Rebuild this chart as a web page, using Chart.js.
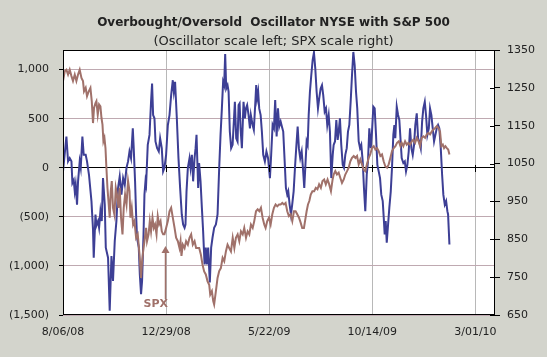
<!DOCTYPE html>
<html><head><meta charset="utf-8">
<script src="https://cdn.jsdelivr.net/npm/chart.js@4/dist/chart.umd.min.js"></script>
<style>
html,body{margin:0;padding:0;background:#d3d4cc;}
canvas{display:block;}
</style></head><body>
<canvas id="c" width="547" height="357"></canvas>
<script>
// ---- tick labels / categories ----
const xTickPositions = [0, 100, 200, 300, 400];
const xTickLabels = ['8/06/08', '12/29/08', '5/22/09', '10/14/09', '3/01/10'];
const leftTicks = [-1500, -1000, -500, 0, 500, 1000];
const rightTicks = [650, 750, 850, 950, 1050, 1150, 1250, 1350];

// ---- Oscillator (left scale): session index from 8/06/08, value ----
const oscDay = [0,3.3,4.9,6.5,8.2,9.1,10.4,11.4,12.3,13.6,14.6,16.2,17.2,18.8,20.1,22.0,23.3,25.2,27.6,29.1,29.8,31.5,32.4,34.0,35.0,36.3,37.6,38.8,40.5,41.5,43.7,45.3,47.0,48.5,50.2,51.8,53.4,55.0,56.7,58.3,59.9,61.6,63.1,64.5,66.0,67.7,68.6,69.9,70.9,71.8,73.5,74.5,75.7,76.7,78.1,79.0,80.0,80.6,82.2,83.9,85.4,86.4,87.4,88.7,89.7,91.3,92.9,94.2,95.8,97.1,98.4,100.0,101.7,103.3,104.9,106.5,107.5,108.7,110.4,112.0,113.6,115.2,116.5,117.9,118.8,119.8,121.1,122.7,123.7,125.0,126.2,127.6,128.6,129.5,130.3,131.1,132.0,133.4,134.7,135.9,137.3,138.5,139.5,140.8,142.4,143.7,145.0,146.6,148.3,149.9,151.5,152.8,154.1,155.3,156.3,157.3,158.3,159.6,160.6,161.8,163.1,164.5,165.7,166.7,168.0,169.3,170.3,171.3,172.2,173.5,175.1,176.4,177.4,178.6,180.0,181.3,182.2,183.9,185.1,186.4,187.4,188.3,189.3,190.3,191.7,192.9,194.2,195.8,197.3,198.9,200.7,201.9,203.3,204.6,205.8,207.2,208.5,209.7,211.1,212.3,213.6,215.0,216.2,217.5,218.5,219.8,221.1,222.3,223.7,225.0,226.2,227.6,228.8,230.1,231.5,232.7,234.0,235.3,236.3,237.3,238.3,239.5,240.8,242.1,243.4,244.7,246.0,247.3,248.5,249.9,251.2,252.4,253.8,255.1,256.3,257.7,258.9,260.2,261.6,262.5,263.8,265.1,266.4,267.4,268.6,269.9,271.3,272.5,273.8,275.2,276.4,277.7,279.0,280.3,281.6,282.9,284.2,285.4,286.8,288.1,289.3,290.7,291.9,293.2,294.6,295.8,297.1,298.5,299.7,301.0,302.3,303.6,304.9,306.2,307.5,308.7,310.1,311.1,312.0,313.0,314.0,315.3,316.5,317.9,319.1,320.4,321.4,322.3,323.7,325.0,326.2,328.5,330.1,331.5,332.7,334.0,335.3,336.6,337.9,339.2,340.5,341.7,343.1,344.4,345.6,347.0,348.3,349.5,350.9,352.1,353.4,354.8,356.0,357.3,358.6,359.9,361.2,362.5,363.8,365.0,366.4,367.7,368.9,370.3,371.6,372.8,373.5,374.8];
const oscValue = [-37,318,65,98,65,-155,-125,-240,-170,-375,-138,65,0,318,132,132,65,-71,-340,-628,-916,-476,-590,-543,-611,-442,-543,-105,-375,-814,-916,-1456,-900,-1152,-746,-543,-206,-88,-274,-105,-172,0,65,166,98,402,200,-138,-476,-713,-814,-1085,-1288,-1152,-679,-274,-138,-172,233,335,673,859,537,504,268,200,166,301,200,-37,0,132,436,537,740,892,775,876,504,98,-206,-476,-578,-611,-578,-240,0,98,0,132,-138,98,200,335,65,-206,48,-138,-409,-645,-984,-814,-984,-814,-1169,-814,-713,-611,-578,-476,0,335,605,876,842,1160,808,842,775,369,200,234,470,673,301,268,639,656,402,200,673,504,605,639,537,402,537,436,386,639,842,707,775,605,537,369,132,65,166,98,-105,132,436,402,690,318,605,420,470,420,369,65,-206,-274,-240,-375,-476,-375,-240,0,200,420,200,98,166,0,-206,65,268,234,537,775,943,1095,1175,1011,775,605,707,808,842,740,572,605,436,537,369,-105,132,233,268,487,284,369,504,233,30,0,132,200,369,436,673,943,1180,1045,775,605,268,200,234,65,-206,-442,-71,65,402,200,369,622,605,335,30,-37,-105,-274,-340,-510,-679,-543,-763,-578,-409,-240,0,335,436,301,622,538,487,98,48,65,-37,30,166,402,200,132,234,436,555,301,268,200,470,605,673,537,335,402,605,537,402,268,335,402,436,402,200,-71,-274,-375,-340,-442,-476,-781];

// ---- S&P 500 (right scale) ----
const spxDay = [0,1.7,3.3,4.9,6.5,8.2,9.7,11.4,13.0,14.6,16.2,17.9,19.4,20.4,22.0,23.3,25.0,26.6,27.9,29.1,30.1,31.5,32.4,33.7,35.0,36.3,37.3,38.3,39.2,40.2,41.2,42.1,43.1,44.1,45.3,46.3,47.3,48.5,49.9,51.2,52.4,53.8,55.0,56.3,57.7,58.9,60.2,61.6,63.1,64.5,65.4,66.7,68.0,69.3,70.9,72.5,74.2,75.7,76.7,78.1,79.0,80.6,81.5,83.0,84.2,85.4,86.8,88.1,89.3,90.7,91.9,93.2,94.6,95.8,97.1,98.4,100.0,101.7,103.3,104.9,106.5,108.2,109.7,111.4,113.0,114.0,114.9,116.2,117.9,119.4,121.1,122.7,124.3,125.9,127.6,129.1,130.5,132.1,133.7,135.3,136.9,138.5,140.2,141.8,142.8,144.4,145.7,146.6,148.3,149.9,151.5,153.1,154.8,156.4,158.0,159.6,161.2,162.9,164.6,166.2,167.7,169.4,171.0,172.6,174.3,175.8,177.5,179.1,180.7,182.3,184.0,185.5,187.2,188.8,190.4,192.0,193.6,195.2,196.5,198.1,199.8,201.4,203.0,204.6,206.2,207.8,209.5,211.1,212.7,214.3,215.9,217.5,219.1,220.8,222.4,224.0,225.6,227.2,228.9,230.5,232.0,233.7,235.3,236.3,237.6,238.9,240.3,241.9,243.6,245.2,246.8,248.4,250.1,251.7,253.3,254.9,256.6,258.2,259.9,261.5,262.5,264.1,265.7,267.4,269.0,270.6,272.3,273.8,275.5,277.1,278.7,280.3,282.0,283.6,285.2,286.8,288.4,290.0,291.6,293.2,294.8,296.5,298.0,299.7,301.4,303.0,304.6,306.2,307.8,309.4,311.0,312.6,314.3,315.9,317.5,319.1,320.8,322.4,324.0,325.7,327.3,328.5,330.1,331.8,333.4,335.0,336.6,338.3,339.8,341.5,343.1,344.8,346.3,348.0,349.6,351.2,352.8,354.5,356.0,357.7,359.3,361.0,362.6,364.2,365.7,367.0,368.4,369.6,370.9,372.3,373.6,374.8];
const spxValue = [1268,1294,1298,1285,1298,1281,1268,1285,1268,1285,1298,1276,1268,1241,1250,1228,1241,1250,1215,1157,1197,1210,1215,1179,1206,1201,1171,1153,1109,1118,1091,1039,986,951,907,977,1004,933,915,986,968,933,986,907,863,933,968,942,1004,977,907,933,889,898,854,863,810,748,792,827,845,880,845,863,898,871,907,880,889,863,911,889,898,871,863,863,880,898,924,933,907,880,854,845,827,845,806,836,827,845,836,854,863,836,845,827,827,827,810,783,765,757,739,730,704,713,687,678,713,748,766,774,801,792,818,836,827,818,854,827,854,863,845,871,863,880,854,871,863,889,880,898,924,929,924,933,907,889,880,898,907,889,916,933,942,937,942,942,946,942,946,924,911,916,898,924,924,916,907,894,880,880,907,924,942,951,968,977,977,986,982,995,986,1004,1008,995,1008,995,977,1008,1021,1030,1021,1026,1012,999,1008,1021,1030,1039,1056,1065,1070,1065,1070,1048,1061,1048,1034,1030,1048,1065,1074,1091,1096,1087,1091,1083,1070,1074,1056,1043,1039,1048,1065,1083,1091,1096,1105,1109,1096,1105,1096,1109,1100,1105,1100,1109,1113,1105,1118,1109,1096,1118,1122,1118,1127,1131,1127,1135,1140,1144,1149,1144,1135,1096,1100,1091,1096,1091,1087,1074];

const FONT = 'DejaVu Sans';
const BLUE = '#3d3f95';
const BROWN = '#a0716a';

function fmtLeft(v) {
  const a = Math.abs(v).toLocaleString('en-US');
  return v < 0 ? '(' + a + ')' : a;
}

const decor = {
  id: 'decor',
  beforeDraw(chart) {
    const { ctx, chartArea: a } = chart;
    ctx.save();
    ctx.fillStyle = '#ffffff';
    ctx.fillRect(a.left, a.top, a.right - a.left, a.bottom - a.top);
    ctx.restore();
  },
  afterDatasetsDraw(chart) {
    const { ctx, chartArea: a, scales } = chart;
    const xs = scales.x, yl = scales.y, yr = scales.y2;
    ctx.save();
    ctx.strokeStyle = '#000';
    ctx.lineWidth = 1;
    ctx.strokeRect(a.left + 0.5, a.top + 0.5, a.right - a.left - 1, a.bottom - a.top - 1);
    ctx.beginPath();
    rightTicks.forEach(v => {
      const y = Math.round(yr.getPixelForValue(v)) + 0.5;
      ctx.moveTo(a.right - 5, y); ctx.lineTo(a.right, y);
    });
    const y0 = Math.round(yl.getPixelForValue(0));
    xTickPositions.slice(1).forEach(p => {
      const x = Math.round(xs.getPixelForValue(p)) + 0.5;
      ctx.moveTo(x, y0 - 3); ctx.lineTo(x, y0 + 4);
    });
    ctx.stroke();
    // SPX annotation
    const ax = Math.round(xs.getPixelForValue(99)) + 0.5;
    const tip = yr.getPixelForValue(832);
    const tail = yr.getPixelForValue(692);
    ctx.strokeStyle = BROWN; ctx.fillStyle = BROWN; ctx.lineWidth = 1.5;
    ctx.beginPath(); ctx.moveTo(ax, tail); ctx.lineTo(ax, tip + 5); ctx.stroke();
    ctx.beginPath(); ctx.moveTo(ax, tip); ctx.lineTo(ax - 4, tip + 7); ctx.lineTo(ax + 4, tip + 7); ctx.closePath(); ctx.fill();
    ctx.font = 'bold 11px ' + FONT;
    ctx.textAlign = 'center'; ctx.textBaseline = 'middle';
    ctx.fillText('SPX', xs.getPixelForValue(90), yr.getPixelForValue(680));
    ctx.restore();
  }
};

new Chart(document.getElementById('c'), {
  type: 'line',
  data: {
    datasets: [
      {
        label: 'SPX',
        data: spxDay.map((d, i) => ({ x: d, y: spxValue[i] })),
        yAxisID: 'y2',
        borderColor: BROWN, borderWidth: 2, pointRadius: 0, tension: 0, fill: false
      },
      {
        label: 'Oscillator',
        data: oscDay.map((d, i) => ({ x: d, y: oscValue[i] })),
        yAxisID: 'y',
        borderColor: BLUE, borderWidth: 2, pointRadius: 0, tension: 0, fill: false
      }
    ]
  },
  options: {
    responsive: false,
    devicePixelRatio: 1,
    animation: false,
    layout: { padding: { left: 0, right: 0, top: 0, bottom: 0 } },
    plugins: {
      legend: { display: false },
      tooltip: { enabled: false },
      title: {
        display: true,
        text: 'Overbought/Oversold  Oscillator NYSE with S&P 500',
        color: '#222',
        font: { family: FONT, size: 12, weight: 'bold' },
        padding: { top: 16, bottom: 3 }
      },
      subtitle: {
        display: true,
        text: '(Oscillator scale left; SPX scale right)',
        color: '#222',
        font: { family: FONT, size: 13 },
        padding: { top: 0, bottom: 1 }
      }
    },
    scales: {
      x: {
        type: 'linear',
        min: 0, max: 419,
        afterBuildTicks: s => { s.ticks = xTickPositions.map(v => ({ value: v })); },
        afterFit: s => { s.height = 42; },
        ticks: {
          autoSkip: false, maxRotation: 0, padding: 11,
          color: '#222', font: { family: FONT, size: 11 },
          callback: (v) => xTickLabels[xTickPositions.indexOf(v)]
        },
        grid: { color: '#b8b8b8', drawTicks: false, lineWidth: 1 },
        border: { display: false }
      },
      y: {
        position: 'left',
        min: -1500, max: 1200,
        afterBuildTicks: s => { s.ticks = leftTicks.map(v => ({ value: v })); },
        afterFit: s => { s.width = 63; },
        ticks: {
          padding: 10, color: '#222', font: { family: FONT, size: 11 },
          callback: v => fmtLeft(v)
        },
        grid: {
          color: c => (c.tick && c.tick.value === 0) ? '#000000' : '#bfa9b1',
          tickColor: '#000', tickLength: 4, lineWidth: 1
        },
        border: { display: false }
      },
      y2: {
        position: 'right',
        min: 650, max: 1350,
        afterBuildTicks: s => { s.ticks = rightTicks.map(v => ({ value: v })); },
        afterFit: s => { s.width = 52; },
        ticks: {
          padding: 7, color: '#222', font: { family: FONT, size: 11 },
          callback: v => String(v)
        },
        grid: { drawOnChartArea: false, tickColor: '#000', tickLength: 5 },
        border: { display: false }
      }
    }
  },
  plugins: [decor]
});
</script>
</body></html>
